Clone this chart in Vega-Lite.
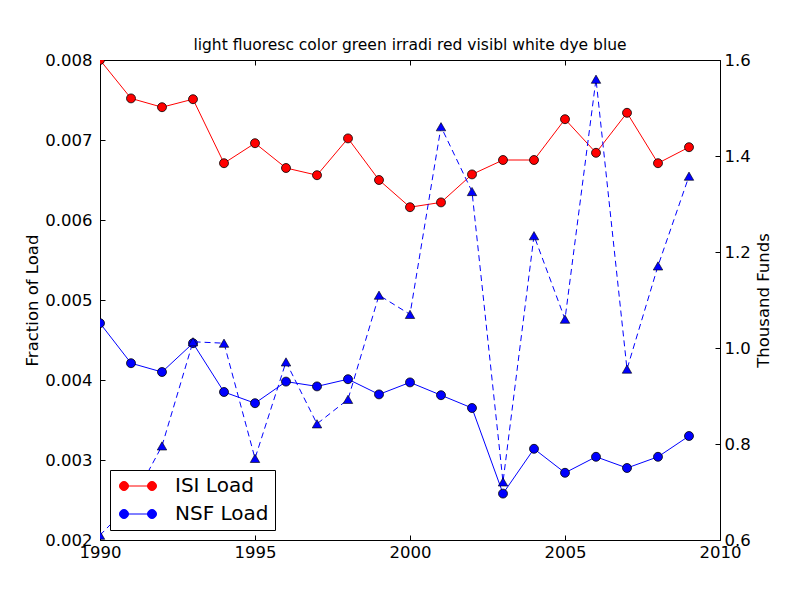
{
  "$schema": "https://vega.github.io/schema/vega-lite/v6.json",
  "width": 620,
  "height": 480,
  "autosize": {"type": "none"},
  "padding": {"left": 100, "top": 60, "right": 80, "bottom": 60},
  "background": "white",
  "title": {
    "text": "light fluoresc color green irradi red visibl white dye blue",
    "fontSize": 15.5,
    "fontWeight": "normal",
    "font": "DejaVu Sans",
    "color": "black",
    "offset": -1
  },
  "data": {
    "values": [
      {"year": 1990, "ISI Load": 0.0080, "NSF Load": 0.00471, "funds": 0.610},
      {"year": 1991, "ISI Load": 0.00752, "NSF Load": 0.00421, "funds": 0.676},
      {"year": 1992, "ISI Load": 0.00741, "NSF Load": 0.00410, "funds": 0.796},
      {"year": 1993, "ISI Load": 0.00751, "NSF Load": 0.00446, "funds": 1.013},
      {"year": 1994, "ISI Load": 0.00671, "NSF Load": 0.00385, "funds": 1.010},
      {"year": 1995, "ISI Load": 0.00696, "NSF Load": 0.00371, "funds": 0.770},
      {"year": 1996, "ISI Load": 0.00665, "NSF Load": 0.00398, "funds": 0.971},
      {"year": 1997, "ISI Load": 0.00656, "NSF Load": 0.00392, "funds": 0.842},
      {"year": 1998, "ISI Load": 0.00702, "NSF Load": 0.00401, "funds": 0.893},
      {"year": 1999, "ISI Load": 0.00650, "NSF Load": 0.00382, "funds": 1.110},
      {"year": 2000, "ISI Load": 0.00616, "NSF Load": 0.00397, "funds": 1.070},
      {"year": 2001, "ISI Load": 0.00622, "NSF Load": 0.00381, "funds": 1.461},
      {"year": 2002, "ISI Load": 0.00657, "NSF Load": 0.00365, "funds": 1.326},
      {"year": 2003, "ISI Load": 0.00675, "NSF Load": 0.00258, "funds": 0.721},
      {"year": 2004, "ISI Load": 0.00675, "NSF Load": 0.00314, "funds": 1.234},
      {"year": 2005, "ISI Load": 0.00726, "NSF Load": 0.00284, "funds": 1.060},
      {"year": 2006, "ISI Load": 0.00684, "NSF Load": 0.00304, "funds": 1.560},
      {"year": 2007, "ISI Load": 0.00734, "NSF Load": 0.00290, "funds": 0.956},
      {"year": 2008, "ISI Load": 0.00671, "NSF Load": 0.00304, "funds": 1.171},
      {"year": 2009, "ISI Load": 0.00691, "NSF Load": 0.00330, "funds": 1.358}
    ]
  },
  "layer": [
    {
      "transform": [{"fold": ["ISI Load", "NSF Load"], "as": ["series", "load"]}],
      "encoding": {
        "x": {
          "field": "year",
          "type": "quantitative",
          "scale": {"domain": [1990, 2010], "nice": false},
          "axis": {"orient": "bottom", "values": [1990, 1995, 2000, 2005, 2010], "format": "d", "title": null, "labelPadding": 9, "labelFlush": false}
        },
        "y": {
          "field": "load",
          "type": "quantitative",
          "scale": {"domain": [0.002, 0.008], "nice": false, "zero": false},
          "axis": {
            "orient": "left",
            "values": [0.002, 0.003, 0.004, 0.005, 0.006, 0.007, 0.008],
            "format": ".3f",
            "title": "Fraction of Load",
            "labelPadding": 13,
            "titlePadding": 4
          }
        },
        "color": {
          "field": "series",
          "type": "nominal",
          "scale": {"domain": ["ISI Load", "NSF Load"], "range": ["#ff0000", "#0000ff"]},
          "legend": {
            "title": null,
            "orient": "none",
            "legendX": 10,
            "legendY": 410,
            "direction": "vertical",
            "strokeColor": "black",
            "fillColor": "white",
            "padding": 6,
            "cornerRadius": 0,
            "labelFontSize": 20,
            "labelFont": "DejaVu Sans",
            "labelColor": "black",
            "labelOffset": 39,
            "symbolType": "M-0.4,0L5.2,0M0.5,0A0.9,0.9,0,1,1,-1.3,0A0.9,0.9,0,1,1,0.5,0ZM6.1,0A0.9,0.9,0,1,1,4.3,0A0.9,0.9,0,1,1,6.1,0Z",
            "symbolSize": 100,
            "symbolStrokeWidth": 1,
            "rowPadding": 8,
            "encode": {
              "symbols": {
                "update": {
                  "fill": {"scale": "color", "field": "value"},
                  "stroke": {"scale": "color", "field": "value"},
                  "opacity": {"value": 1}
                }
              }
            }
          }
        }
      },
      "layer": [
        {"mark": {"type": "line", "strokeWidth": 1, "clip": true}},
        {
          "mark": {"type": "point", "shape": "circle", "filled": true, "size": 80, "stroke": "black", "strokeWidth": 0.8, "opacity": 1, "clip": true}
        }
      ]
    },
    {
      "encoding": {
        "x": {
          "field": "year",
          "type": "quantitative",
          "axis": {"orient": "top", "values": [1990, 1995, 2000, 2005, 2010], "labels": false, "title": null}
        },
        "y": {
          "field": "funds",
          "type": "quantitative",
          "scale": {"domain": [0.6, 1.6], "nice": false, "zero": false},
          "axis": {
            "orient": "right",
            "values": [0.6, 0.8, 1.0, 1.2, 1.4, 1.6],
            "format": ".1f",
            "title": "Thousand Funds",
            "titleAngle": 270,
            "labelPadding": 9,
            "titlePadding": 21
          }
        }
      },
      "layer": [
        {"mark": {"type": "line", "color": "#0000ff", "strokeWidth": 1, "strokeDash": [6, 4], "clip": true}},
        {
          "mark": {"type": "point", "shape": "triangle-up", "filled": true, "size": 90, "color": "#0000ff", "stroke": "black", "strokeWidth": 0.6, "opacity": 1, "clip": true}
        }
      ]
    }
  ],
  "resolve": {"scale": {"y": "independent"}, "axis": {"x": "independent"}},
  "config": {
    "view": {"stroke": null},
    "font": "DejaVu Sans",
    "axis": {
      "grid": false,
      "domainColor": "black",
      "domainWidth": 1,
      "tickColor": "black",
      "tickSize": -5,
      "labelFontSize": 16.5,
      "labelFont": "DejaVu Sans",
      "labelColor": "black",
      "titleFontSize": 16.5,
      "titleFont": "DejaVu Sans",
      "titleFontWeight": "normal",
      "titleColor": "black"
    }
  }
}
